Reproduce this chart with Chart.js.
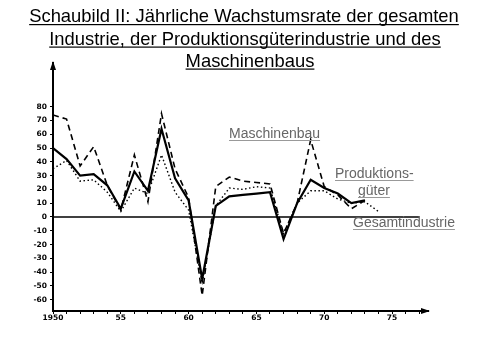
<!DOCTYPE html>
<html><head><meta charset="utf-8">
<script src="https://cdn.jsdelivr.net/npm/chart.js@4"></script>
<style>html,body{margin:0;padding:0;background:#fff;}canvas{display:block}</style>
</head><body>
<canvas id="c" width="479" height="357"></canvas>
<script>
// ---- data ----
const years = [1950,1951,1952,1953,1954,1955,1956,1957,1958,1959,1960,1961,1962,1963,1964,1965,1966,1967,1968,1969,1970,1971,1972,1973,1974];
const gesamtindustrie = [50,42,30,31,23,6,33,19,64,28,12,-45,8,15,16,17,18,-16,10,27,21,17,10,12];
const maschinenbau    = [74,71,37,51,23,5,45,11,75,35,14,-57,22,29,26,25,24,-12,10,56,22,16,6,12];
const produktionsgueter = [35,41,26,27,18,4,21,17,45,18,5,-48,8,21,20,22,21,-12,10,19,19,13,10,11,4];
const zeroLineYears = [1950,1977];
const xMinorTicks = [1950,1951,1952,1953,1954,1955,1956,1957,1958,1959,1960,1961,1962,1963,1964,1965,1966,1967,1968,1969,1970,1971,1972,1973,1974,1975,1976,1977];
const xTickYears = [1950,1955,1960,1965,1970,1975];
const xTickLabels = ["1950","55","60","65","70","75"];
const yTickValues = [-60,-50,-40,-30,-20,-10,0,10,20,30,40,50,60,70,80];
const yTickLabels = ["-60","-50","-40","-30","-20","-10","0","10","20","30","40","50","60","70","80"];
const titleLines = ["Schaubild II: Jährliche Wachstumsrate der gesamten","Industrie, der Produktionsgüterindustrie und des","Maschinenbaus"];
const seriesLabels = ["Maschinenbau","Produktions-","güter","Gesamtindustrie"];

const pts = (arr) => arr.map((v,i)=>({x:years[i],y:v}));

const decor = {
  id:'decor',
  afterDraw(chart){
    const ctx = chart.ctx, ca = chart.chartArea;
    ctx.save();
    // arrows
    ctx.fillStyle = '#000';
    ctx.beginPath();
    ctx.moveTo(ca.right+2, ca.bottom);
    ctx.lineTo(ca.right-7, ca.bottom-3);
    ctx.lineTo(ca.right-7, ca.bottom+3);
    ctx.closePath(); ctx.fill();
    ctx.beginPath();
    ctx.moveTo(ca.left, ca.top-2);
    ctx.lineTo(ca.left-3, ca.top+7);
    ctx.lineTo(ca.left+3, ca.top+7);
    ctx.closePath(); ctx.fill();
    // title
    ctx.font = '18.4px "Liberation Sans", Arial, sans-serif';
    ctx.textBaseline = 'alphabetic';
    ctx.textAlign = 'left';
    const tc = [244,245,250], tb = [22,44.5,66.5];
    titleLines.forEach((t,i)=>{
      const w = ctx.measureText(t).width;
      const x0 = tc[i]-w/2;
      ctx.fillStyle = '#000';
      ctx.fillText(t, x0, tb[i]);
      ctx.fillRect(x0, tb[i]+2, w, 1.2);
    });
    // series labels
    ctx.font = '14px "Liberation Sans", Arial, sans-serif';
    const lx = [229,335,358,353], lb = [138,178,195,227];
    seriesLabels.forEach((t,i)=>{
      const w = ctx.measureText(t).width;
      ctx.fillStyle = '#666';
      ctx.fillText(t, lx[i], lb[i]);
      ctx.fillStyle = '#999';
      ctx.fillRect(lx[i], lb[i]+2, w, 1);
    });
    ctx.restore();
  }
};

new Chart(document.getElementById('c'), {
  type:'line',
  data:{datasets:[
    {data:zeroLineYears.map(x=>({x:x,y:0})), borderColor:'#000', borderWidth:1.5, pointRadius:0},
    {data:pts(maschinenbau), borderColor:'#000', borderWidth:1.6, borderDash:[6,4], pointRadius:0, tension:0},
    {data:pts(produktionsgueter), borderColor:'#000', borderWidth:1.4, borderDash:[1.5,2.5], pointRadius:0, tension:0},
    {data:pts(gesamtindustrie), borderColor:'#000', borderWidth:2.2, pointRadius:0, tension:0}
  ]},
  options:{
    responsive:false, animation:false,
    layout:{padding:{top:63,right:51,left:0,bottom:0}},
    plugins:{legend:{display:false}, tooltip:{enabled:false}, title:{display:false}},
    scales:{
      x:{type:'linear', min:1950, max:1977.65,
        afterFit(s){ s.height = 46; },
        afterBuildTicks(s){ s.ticks = xMinorTicks.map(v=>({value:v})); },
        ticks:{autoSkip:false, maxRotation:0, padding:0, color:'#000',
          font:{size:7.5, weight:'bold', family:'"DejaVu Sans", sans-serif'},
          callback:(v)=>{ const i = xTickYears.indexOf(v); return i>=0 ? xTickLabels[i] : ''; }},
        grid:{drawOnChartArea:false, drawTicks:true, tickLength:3, color:'#000', lineWidth:1},
        border:{color:'#000', width:2}
      },
      y:{type:'linear', min:-68.2, max:111.7,
        afterFit(s){ s.width = 53; },
        afterBuildTicks(s){ s.ticks = yTickValues.map(v=>({value:v})); },
        ticks:{autoSkip:false, padding:3, color:'#000',
          font:{size:7.5, weight:'bold', family:'"DejaVu Sans", sans-serif'},
          callback:(v)=>{ const i = yTickValues.indexOf(v); return i>=0 ? yTickLabels[i] : ''; }},
        grid:{drawOnChartArea:false, drawTicks:true, tickLength:3, color:'#000', lineWidth:1},
        border:{color:'#000', width:2}
      }
    }
  },
  plugins:[decor]
});
</script>
</body></html>
